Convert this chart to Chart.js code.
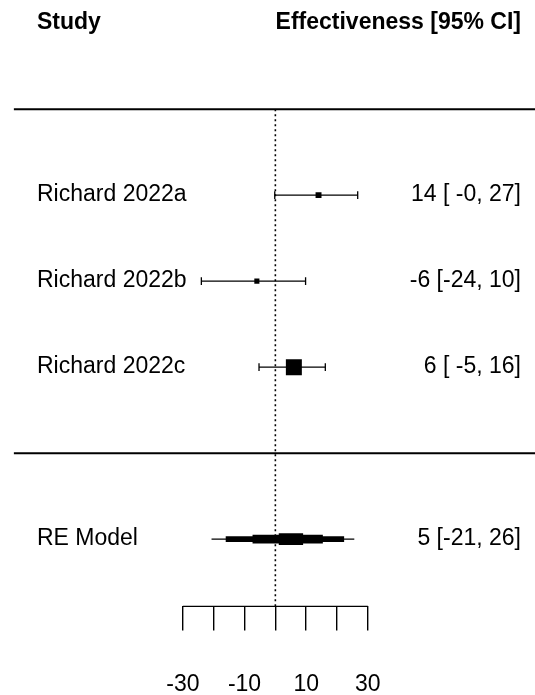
<!DOCTYPE html>
<html>
<head>
<meta charset="utf-8">
<script src="https://cdn.jsdelivr.net/npm/chart.js@4.4.1/dist/chart.umd.min.js"></script>
<style>
  html, body { margin: 0; padding: 0; background: #fff; overflow: hidden; }
  #wrap { width: 535px; height: 738px; }
</style>
</head>
<body>
<div id="wrap"><canvas id="forest"></canvas></div>
<script>
// Studies (top to bottom)
const studies = ["Richard 2022a", "Richard 2022b", "Richard 2022c"];
const rows = [3, 2, 1];
const estimates = [14, -6, 6];
const lowerCI = [-0.2, -24, -5.3];
const upperCI = [26.7, 9.8, 16.2];

// Random-effects summary
const reLabel = "RE Model";
const reRow = -1;
const reEstimate = 5;
const reLower = -21;
const reUpper = 26;
const reBandLower = [-20.7, -16.1, -7.4, 1.1];
const reBandUpper = [25.6, 22.3, 15.4, 9.0];

// Axis
const xTicks = [-30, -20, -10, 0, 10, 20, 30];
const xTickLabels = [-30, -10, 10, 30];

const FONT = "'Liberation Sans', Arial, sans-serif";
const Y_MIN = -1.782, Y_MAX = 5.269;

function fmt(v) {
    const r = Math.round(v);
    if (r === 0 && v < 0) return "-0";
    return String(r);
}
function ciText(est, lo, hi) {
    return fmt(est) + " [" + fmt(lo).padStart(3, " ") + ", " + fmt(hi) + "]";
}

// ✅ CI lines for each study
const ciSets = studies.map((s, i) => ({
    type: "line",
    data: [{ x: lowerCI[i], y: rows[i] }, { x: upperCI[i], y: rows[i] }],
    borderColor: "#000",
    borderWidth: 1.3,
    pointRadius: 0
}));

// ✅ Summary bands (thin to thick)
const bandWidths = [1.3, 5.7, 8.7, 11.7];
const reSets = reBandLower.map((lo, i) => ({
    type: "line",
    data: [{ x: lo, y: reRow }, { x: reBandUpper[i], y: reRow }],
    borderColor: "#000",
    borderWidth: bandWidths[i],
    borderCapStyle: "butt",
    pointRadius: 0
}));

function hline(y, x0, x1, width) {
    return {
        type: "line",
        data: [{ x: x0, y: y }, { x: x1, y: y }],
        borderColor: "#000",
        borderWidth: width,
        borderCapStyle: "butt",
        pointRadius: 0,
        clip: false
    };
}

const textPlugin = {
    id: "forestText",
    afterDatasetsDraw(chart) {
        const ctx = chart.ctx;
        const y = chart.scales.y;
        ctx.save();
        ctx.fillStyle = "#000";
        ctx.textBaseline = "middle";

        ctx.font = "bold 23px " + FONT;
        ctx.textAlign = "left";
        ctx.fillText("Study", 37, y.getPixelForValue(5));
        ctx.textAlign = "right";
        ctx.fillText("Effectiveness [95% CI]", 521, y.getPixelForValue(5));

        ctx.font = "23px " + FONT;
        studies.forEach((s, i) => {
            const py = y.getPixelForValue(rows[i]);
            ctx.textAlign = "left";
            ctx.fillText(s, 37, py);
            ctx.textAlign = "right";
            ctx.fillText(ciText(estimates[i], lowerCI[i], upperCI[i]), 521, py);
        });
        const ry = y.getPixelForValue(reRow);
        ctx.textAlign = "left";
        ctx.fillText(reLabel, 37, ry);
        ctx.textAlign = "right";
        ctx.fillText(ciText(reEstimate, reLower, reUpper), 521, ry);
        ctx.restore();
    }
};

new Chart(document.getElementById("forest"), {
    type: "scatter",
    data: {
        datasets: [
            // reference line at 0
            {
                type: "line",
                data: [{ x: 0, y: 4 }, { x: 0, y: Y_MIN }],
                borderColor: "#000",
                borderWidth: 1.6,
                borderDash: [2, 3],
                pointRadius: 0
            },
            hline(4, -84.8, 84.2, 2),
            hline(0, -84.8, 84.2, 2),
            hline(Y_MIN, xTicks[0], xTicks[xTicks.length - 1], 1.4),
            ...ciSets,
            // CI end caps
            {
                data: studies.flatMap((s, i) => [
                    { x: lowerCI[i], y: rows[i] },
                    { x: upperCI[i], y: rows[i] }
                ]),
                pointStyle: "line",
                rotation: 90,
                pointRadius: 3.8,
                borderColor: "#000",
                borderWidth: 1.3
            },
            // study estimates
            {
                data: studies.map((s, i) => ({ x: estimates[i], y: rows[i] })),
                pointStyle: "rect",
                pointRadius: [4.2, 3.6, 11.3],
                backgroundColor: "#000",
                borderWidth: 0
            },
            ...reSets
        ]
    },
    options: {
        responsive: true,
        maintainAspectRatio: false,
        animation: false,
        events: [],
        plugins: { legend: { display: false }, tooltip: { enabled: false } },
        layout: { padding: 0, autoPadding: false },
        scales: {
            x: {
                type: "linear",
                min: -89.3,
                max: 84.2,
                position: "bottom",
                border: { display: false },
                afterBuildTicks: scale => { scale.ticks = xTicks.map(v => ({ value: v })); },
                grid: {
                    drawOnChartArea: false,
                    drawTicks: true,
                    tickLength: 24,
                    color: "#000",
                    lineWidth: 1.4
                },
                ticks: {
                    autoSkip: false,
                    minRotation: 0,
                    maxRotation: 0,
                    padding: 40,
                    color: "#000",
                    font: { family: FONT, size: 23 },
                    callback: v => xTickLabels.includes(v) ? String(v) : ""
                }
            },
            y: {
                type: "linear",
                min: Y_MIN,
                max: Y_MAX,
                display: false
            }
        }
    },
    plugins: [textPlugin]
});
</script>
</body>
</html>
